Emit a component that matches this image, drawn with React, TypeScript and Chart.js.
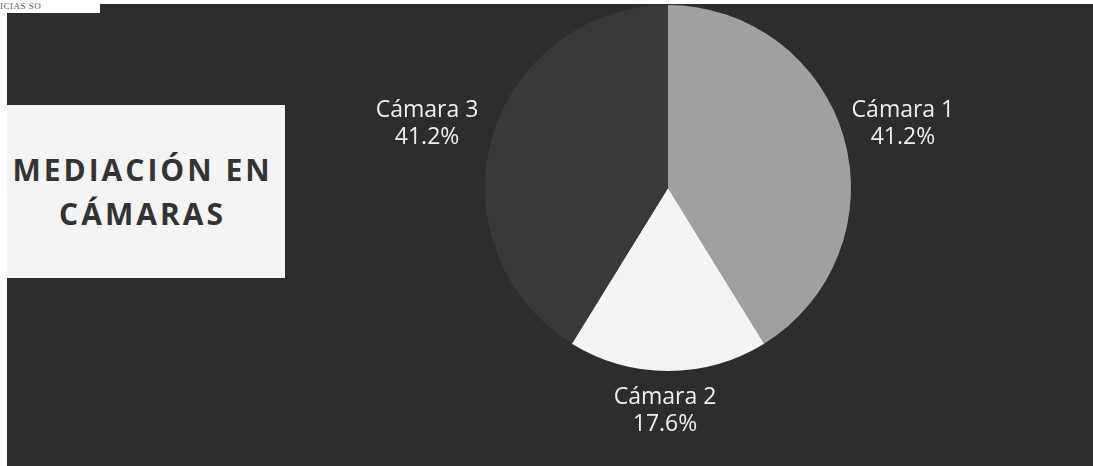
import React, { useEffect, useRef } from "react";
import { Chart, registerables } from "chart.js";

Chart.register(...registerables);

const categories = ["Cámara 1", "Cámara 2", "Cámara 3"];
const values = [41.2, 17.6, 41.2];
const sliceColors = ["#a0a0a0", "#f4f4f4", "#393939"];
const titleLines = ["MEDIACIÓN EN", "CÁMARAS"];

const labelPlugin = {
  id: "outsideLabels",
  afterDatasetsDraw(chart: any) {
    const ctx = chart.ctx;
    const meta = chart.getDatasetMeta(0);
    const fontSize = 23;
    const lineH = 27;
    ctx.save();
    ctx.font = `${fontSize}px "Open Sans"`;
    ctx.fillStyle = "#efefef";
    ctx.textAlign = "center";
    ctx.textBaseline = "middle";
    meta.data.forEach((arc: any, i: number) => {
      const p = arc.getProps(["x", "y", "startAngle", "endAngle", "outerRadius"], true);
      const mid = (p.startAngle + p.endAngle) / 2;
      const dx = Math.cos(mid);
      const dy = Math.sin(mid);
      const lines = [categories[i], values[i].toFixed(1) + "%"];
      const w = Math.max(...lines.map((l) => ctx.measureText(l).width));
      const h = lines.length * lineH;
      const px = p.x + (p.outerRadius + 13) * dx;
      const py = p.y + (p.outerRadius + 13) * dy;
      const cx = px + (dx * w) / 2 - 3;
      const cy = py + (dy * h) / 2 - Math.abs(dx) * 3;
      lines.forEach((l, k) => {
        ctx.fillText(l, cx, cy + (k - (lines.length - 1) / 2) * lineH);
      });
    });
    ctx.restore();
  },
};

function PieChart() {
  const ref = useRef<HTMLCanvasElement | null>(null);
  useEffect(() => {
    if (!ref.current) return;
    const chart = new Chart(ref.current, {
      type: "pie",
      data: {
        labels: categories,
        datasets: [
          {
            data: values,
            backgroundColor: sliceColors,
            borderWidth: 0,
          },
        ],
      },
      options: {
        animation: false,
        responsive: false,
        maintainAspectRatio: false,
        layout: { padding: { left: 485, right: 242, top: 5, bottom: 95 } },
        plugins: {
          legend: { display: false },
          tooltip: { enabled: false },
        },
      },
      plugins: [labelPlugin],
    });
    return () => chart.destroy();
  }, []);
  return (
    <canvas
      ref={ref}
      width={1093}
      height={466}
      style={{ position: "absolute", left: 0, top: 0, width: 1093, height: 466 }}
    />
  );
}

export default function App() {
  return (
    <div
      style={{
        position: "fixed",
        left: 0,
        top: 0,
        width: 1093,
        height: 466,
        background: "#ffffff",
        overflow: "hidden",
      }}
    >
      <div
        style={{
          position: "absolute",
          left: 7,
          top: 4,
          right: 0,
          bottom: 0,
          background: "#2d2d2d",
        }}
      />
      <div
        style={{
          position: "absolute",
          left: 0,
          top: 0,
          width: 100,
          height: 13,
          background: "#ffffff",
          overflow: "hidden",
        }}
      >
        <span
          style={{
            position: "absolute",
            left: 0,
            top: 1,
            fontFamily: '"Liberation Serif", serif',
            fontSize: 9,
            color: "#555",
            whiteSpace: "nowrap",
            letterSpacing: 0.5,
          }}
        >
          ICIAS SO
        </span>
      </div>
      <div
        style={{
          position: "absolute",
          left: 7,
          top: 105,
          width: 278,
          height: 173,
          background: "#f4f4f4",
          display: "flex",
          flexDirection: "column",
          alignItems: "center",
          justifyContent: "center",
          fontFamily: '"Open Sans", sans-serif',
          fontWeight: 700,
          fontSize: 30,
          letterSpacing: 3,
          color: "#333333",
          lineHeight: "44px",
          textAlign: "center",
          paddingTop: 1,
          paddingRight: 7,
          boxSizing: "border-box",
        }}
      >
        {titleLines.map((t) => (
          <div key={t}>{t}</div>
        ))}
      </div>
      <PieChart />
    </div>
  );
}
